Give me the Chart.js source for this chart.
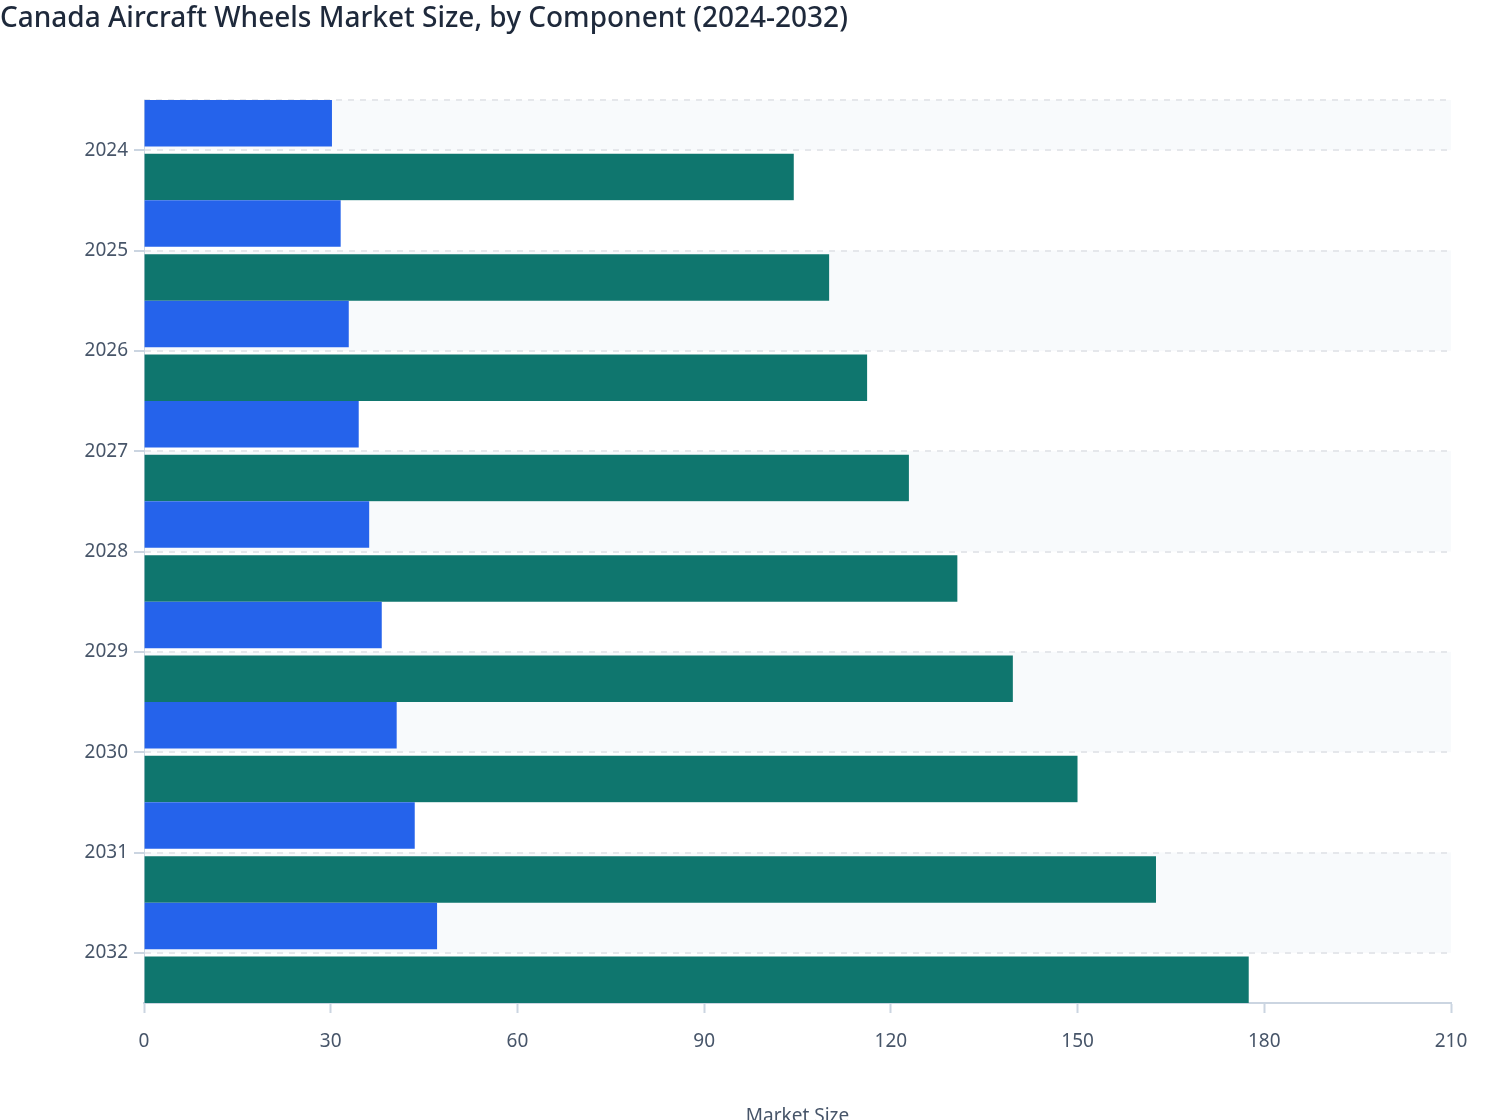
<!DOCTYPE html>
<html>
<head>
<meta charset="utf-8">
<title>Canada Aircraft Wheels Market Size</title>
<script src="https://cdn.jsdelivr.net/npm/chart.js@4.4.1/dist/chart.umd.min.js"></script>
<style>
  html, body { margin: 0; padding: 0; background: #fff; overflow: hidden; }
  #wrap { width: 1508px; height: 1132px; }
</style>
</head>
<body>
<div id="wrap"><canvas id="marketChart" width="1508" height="1132"></canvas></div>
<script>
const years = ["2024", "2025", "2026", "2027", "2028", "2029", "2030", "2031", "2032"];
const tiresValues = [30.2, 31.6, 32.9, 34.5, 36.2, 38.2, 40.6, 43.5, 47.1];
const wheelsValues = [104.4, 110.1, 116.2, 122.9, 130.7, 139.6, 150.0, 162.6, 177.5];
const xTicks = [0, 30, 60, 90, 120, 150, 180, 210];

const FONT = "'Noto Sans', 'Open Sans', sans-serif";
const axisColor = "#cbd5e1";
const labelColor = "#475569";

// alternating light bands between the category ticks + dashed top line
const bandPlugin = {
    id: "bands",
    beforeDraw(chart) {
        const { ctx, chartArea, scales } = chart;
        const y = scales.y;
        ctx.save();
        ctx.fillStyle = "#f8fafc";
        for (let i = 0; i < years.length; i += 2) {
            const top = i === 0 ? chartArea.top : y.getPixelForTick(i - 1);
            const bottom = y.getPixelForTick(i);
            ctx.fillRect(chartArea.left, top, chartArea.right - chartArea.left, bottom - top);
        }
        ctx.strokeStyle = "#e5e7eb";
        ctx.lineWidth = 2;
        ctx.setLineDash([6, 6]);
        ctx.beginPath();
        ctx.moveTo(chartArea.left, chartArea.top);
        ctx.lineTo(chartArea.right, chartArea.top);
        ctx.stroke();
        ctx.restore();
    }
};

const ctx = document.getElementById("marketChart").getContext("2d");

// transparent borders leave the gap between the two bars of a year
const chart = new Chart(ctx, {
    type: "bar",
    data: {
        labels: years,
        datasets: [{
            label: "Tires",
            data: tiresValues,
            backgroundColor: "#2563eb",
            borderColor: "rgba(0, 0, 0, 0)",
            borderWidth: { top: 0, right: 0, bottom: 4, left: 0 },
            borderSkipped: false
        }, {
            label: "Wheels",
            data: wheelsValues,
            backgroundColor: "#0f766e",
            borderColor: "rgba(0, 0, 0, 0)",
            borderWidth: { top: 4, right: 0, bottom: 0, left: 0 },
            borderSkipped: false
        }]
    },
    options: {
        indexAxis: "y",
        responsive: false,
        animation: false,
        devicePixelRatio: 1,
        datasets: {
            bar: { categoryPercentage: 1.0, barPercentage: 1.0 }
        },
        layout: { padding: { left: 0, right: 57, top: 0, bottom: 0 } },
        plugins: {
            legend: { display: false },
            tooltip: { enabled: false },
            title: {
                display: true,
                text: "Canada Aircraft Wheels Market Size, by Component (2024-2032)",
                align: "start",
                color: "#1e293b",
                font: { family: FONT, size: 28, weight: "500", lineHeight: 1.2 },
                padding: { top: 2, bottom: 64.4 }
            }
        },
        scales: {
            x: {
                min: 0,
                max: 210,
                afterBuildTicks: (scale) => { scale.ticks = xTicks.map(v => ({ value: v })); },
                afterFit: (scale) => { scale.height = 129; },
                grid: {
                    drawOnChartArea: false,
                    drawTicks: true,
                    tickLength: 10,
                    tickColor: axisColor,
                    tickWidth: 2
                },
                border: { display: true, color: axisColor, width: 2 },
                ticks: {
                    color: labelColor,
                    padding: 17,
                    font: { family: FONT, size: 19 }
                },
                title: {
                    display: true,
                    text: "Market Size",
                    color: labelColor,
                    font: { family: FONT, size: 19 },
                    padding: { top: 0, bottom: 4 }
                }
            },
            y: {
                afterFit: (scale) => { scale.width = 144; },
                grid: {
                    offset: false,
                    color: "#e5e7eb",
                    lineWidth: 2,
                    drawTicks: true,
                    tickLength: 10,
                    tickColor: axisColor,
                    tickWidth: 2,
                    tickBorderDash: []
                },
                border: { display: true, color: axisColor, width: 1, dash: [6, 6] },
                ticks: {
                    color: labelColor,
                    padding: 6,
                    font: { family: FONT, size: 19 }
                }
            }
        }
    },
    plugins: [bandPlugin]
});
</script>
</body>
</html>
